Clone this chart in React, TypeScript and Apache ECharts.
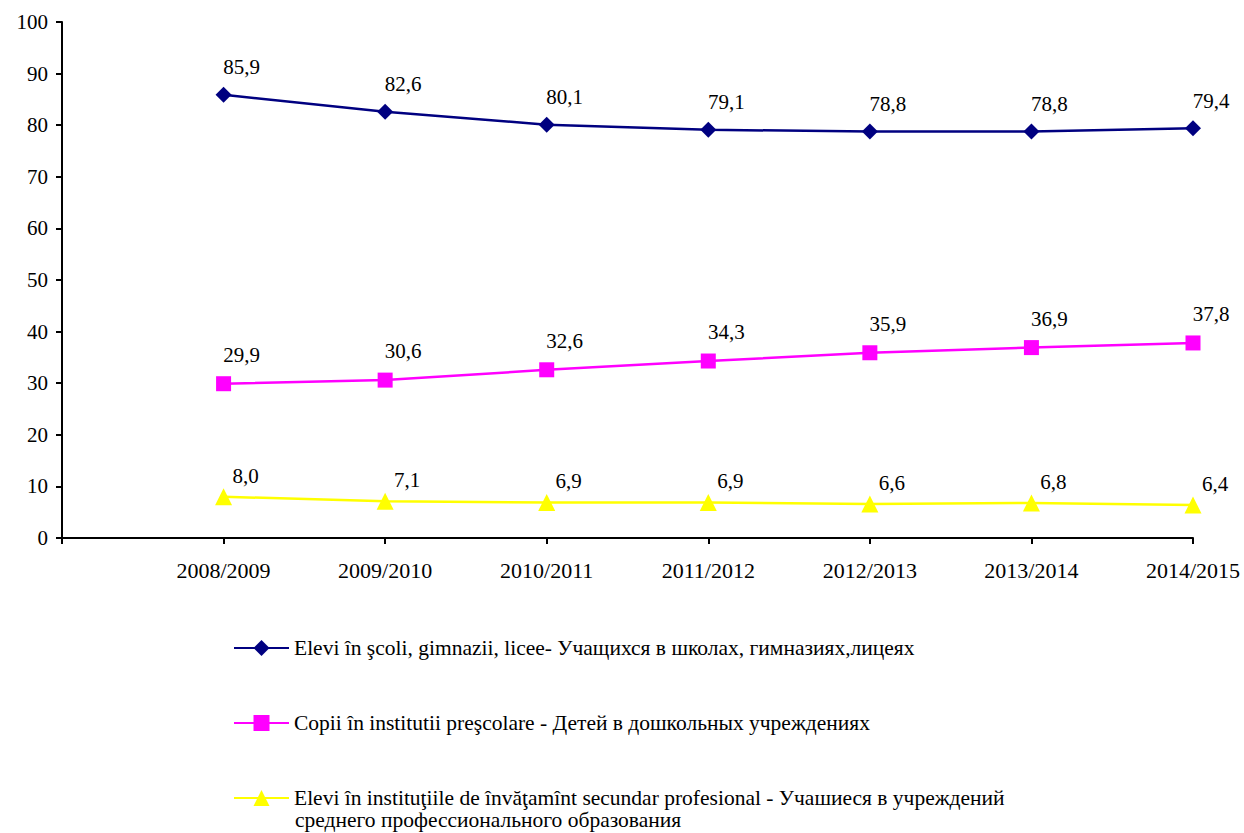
import React, { useEffect, useRef } from "react";
import * as echarts from "echarts";

const categories = ["", "2008/2009", "2009/2010", "2010/2011", "2011/2012", "2012/2013", "2013/2014", "2014/2015"];
const schools = [null, 85.9, 82.6, 80.1, 79.1, 78.8, 78.8, 79.4];
const preschool = [null, 29.9, 30.6, 32.6, 34.3, 35.9, 36.9, 37.8];
const vocational = [null, 8.0, 7.1, 6.9, 6.9, 6.6, 6.8, 6.4];
const names = [
  "Elevi în şcoli, gimnazii, licee- Учащихся в школах, гимназиях,лицеях",
  "Copii în institutii preşcolare - Детей в дошкольных учреждениях",
  "Elevi în instituţiile de învăţamînt secundar profesional - Учашиеся в учреждений",
];
const name3second = "среднего профессионального образования";

const FONT = "Liberation Serif";

export default function App() {
  const ref = useRef<HTMLDivElement>(null);
  useEffect(() => {
    if (!ref.current) return;
    const chart = echarts.init(ref.current, null, { renderer: "svg" });
    const label = (offset: number[]) => ({
      show: true,
      position: "top",
      distance: 5,
      offset,
      fontFamily: FONT,
      fontSize: 21,
      color: "#000",
      formatter: (p: any) => (p.value == null ? "" : Number(p.value).toFixed(1).replace(".", ",")),
    });
    const mk = (name: string, data: any[], color: string, symbol: string, size: number, offset: number[]) => ({
      name,
      type: "line",
      data,
      symbol,
      symbolSize: size,
      showAllSymbol: true,
      lineStyle: { color, width: 2.5 },
      itemStyle: { color },
      label: label(offset),
    });
    chart.setOption({
      animation: false,
      backgroundColor: "#fff",
      grid: { left: 62, right: 51, top: 22, bottom: 295, containLabel: false },
      xAxis: {
        type: "category",
        data: categories,
        boundaryGap: false,
        axisLine: { lineStyle: { color: "#000", width: 2 } },
        axisTick: { show: true, length: 6, lineStyle: { color: "#000", width: 2 }, interval: 0 },
        axisLabel: { fontFamily: FONT, fontSize: 22, color: "#000", margin: 21, interval: 0 },
        splitLine: { show: false },
      },
      yAxis: {
        type: "value",
        min: 0,
        max: 100,
        interval: 10,
        axisLine: { show: true, lineStyle: { color: "#000", width: 2 } },
        axisTick: { show: true, length: 6, lineStyle: { color: "#000", width: 2 } },
        axisLabel: { fontFamily: FONT, fontSize: 21, color: "#000", margin: 14 },
        splitLine: { show: false },
      },
      legend: {
        orient: "vertical",
        left: 228,
        top: 632,
        itemWidth: 55,
        itemHeight: 20,
        itemGap: 53,
        textStyle: { fontFamily: FONT, fontSize: 21.5, color: "#000", lineHeight: 22 },
        data: names,
      },
      graphic: [
        {
          type: "text",
          left: 295,
          top: 809,
          style: { text: name3second, fontFamily: FONT, fontSize: 21.5, fill: "#000" },
        },
      ],
      series: [
        mk(names[0], schools, "#000080", "diamond", 16, [18, -4]),
        mk(names[1], preschool, "#FF00FF", "rect", 15, [18, -6]),
        mk(names[2], vocational, "#FFFF00", "triangle", 17, [22, 3]),
      ],
    });
    return () => chart.dispose();
  }, []);
  return <div ref={ref} style={{ width: 1244, height: 833, position: "absolute", left: 0, top: 0 }} />;
}
